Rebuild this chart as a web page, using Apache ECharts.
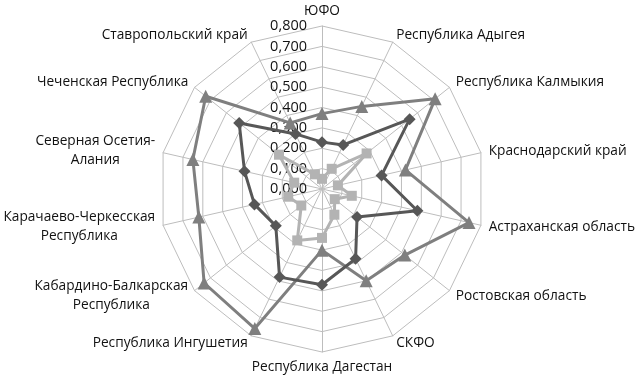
<!DOCTYPE html>
<html>
<head>
<meta charset="utf-8">
<script src="https://cdn.jsdelivr.net/npm/echarts@6/dist/echarts.min.js"></script>
<style>
  html, body { margin: 0; padding: 0; background: #fff; }
  #chart { width: 639px; height: 377px; }
</style>
</head>
<body>
<div id="chart"></div>
<script>
// regions, clockwise from the top
var categories = [
  'ЮФО', 'Республика Адыгея', 'Республика Калмыкия', 'Краснодарский край',
  'Астраханская область', 'Ростовская область', 'СКФО', 'Республика Дагестан',
  'Республика Ингушетия', 'Кабардино-Балкарская\nРеспублика',
  'Карачаево-Черкесская\nРеспублика', 'Северная Осетия-\nАлания',
  'Чеченская Республика', 'Ставропольский край'
];
var diamondValues = [0.23, 0.24, 0.55, 0.30, 0.48, 0.22, 0.38, 0.47, 0.48, 0.29, 0.34, 0.39, 0.52, 0.30];
var triangleValues = [0.37, 0.45, 0.71, 0.42, 0.74, 0.52, 0.50, 0.30, 0.76, 0.74, 0.62, 0.65, 0.73, 0.36];
var squareValues = [0.05, 0.11, 0.28, 0.08, 0.15, 0.08, 0.14, 0.24, 0.28, 0.13, 0.17, 0.14, 0.27, 0.08];
var axisMax = 0.8;

// echarts lays radar axes out counter-clockwise, so keep the first and flip the rest
function toRadarOrder(arr) {
  return [arr[0]].concat(arr.slice(1).reverse());
}

var myChart = echarts.init(document.getElementById('chart'));
var fontFamily = 'Open Sans';
var nameSize = 13.7;
var textColor = '#111';

// width of the longest line, so two-line names get centred lines
var ctx = document.createElement('canvas').getContext('2d');
ctx.font = nameSize + 'px "' + fontFamily + '"';
function lineWidth(s) {
  return Math.ceil(ctx.measureText(s).width);
}

var indicator = toRadarOrder(categories).map(function (name, i) {
  var ind = { name: name, min: 0, max: axisMax };
  if (i === 0) {
    ind.axisLabel = { show: true };
  }
  return ind;
});

var option = {
  animation: false,
  radar: {
    center: [322, 189],
    radius: 163,
    startAngle: 90,
    splitNumber: 8,
    shape: 'polygon',
    nameGap: 8,
    axisName: {
      color: textColor,
      fontSize: nameSize,
      fontFamily: fontFamily,
      formatter: function (name) {
        var lines = name.split('\n');
        if (lines.length === 1) return name;
        var w = Math.max.apply(null, lines.map(lineWidth));
        return lines.map(function (s) { return '{c' + w + '|' + s + '}'; }).join('\n');
      },
      rich: (function () {
        var rich = {};
        categories.forEach(function (name) {
          var lines = name.split('\n');
          if (lines.length > 1) {
            var w = Math.max.apply(null, lines.map(lineWidth));
            rich['c' + w] = { width: w, align: 'center', fontSize: nameSize, fontFamily: fontFamily, color: textColor, lineHeight: 19 };
          }
        });
        return rich;
      })()
    },
    indicator: indicator,
    axisLine: { lineStyle: { color: '#bdbdbd', width: 1 } },
    splitLine: { lineStyle: { color: '#bdbdbd', width: 1 } },
    splitArea: { show: false },
    axisTick: { show: false },
    axisLabel: {
      show: false,
      color: textColor,
      fontSize: 14.5,
      fontFamily: fontFamily,
      margin: 15,
      formatter: function (v) { return v.toFixed(3).replace('.', ','); }
    }
  },
  series: [{
    type: 'radar',
    data: [
      {
        value: toRadarOrder(triangleValues),
        symbol: 'triangle', symbolSize: 13,
        lineStyle: { color: '#7f7f7f', width: 3 },
        itemStyle: { color: '#7f7f7f' }
      },
      {
        value: toRadarOrder(diamondValues),
        symbol: 'diamond', symbolSize: 12,
        lineStyle: { color: '#575757', width: 3 },
        itemStyle: { color: '#575757' }
      },
      {
        value: toRadarOrder(squareValues),
        symbol: 'rect', symbolSize: 10,
        lineStyle: { color: '#b3b3b3', width: 3 },
        itemStyle: { color: '#b3b3b3' }
      }
    ]
  }]
};
myChart.setOption(option, true);
</script>
</body>
</html>
